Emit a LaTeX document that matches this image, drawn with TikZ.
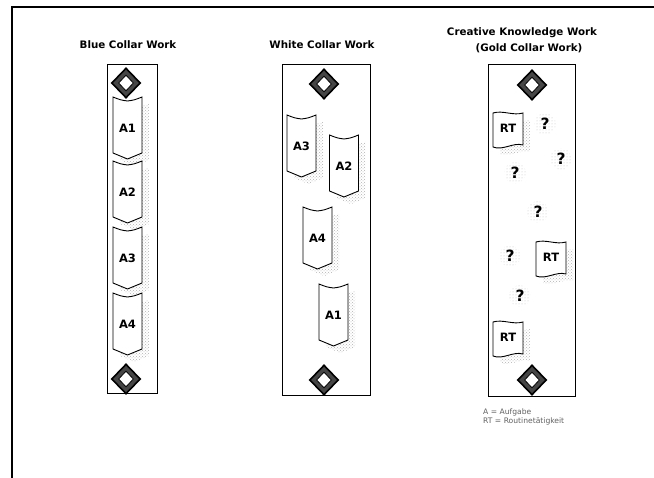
\documentclass[tikz,border=0pt]{standalone}
\usepackage{fontspec}
\setmainfont{DejaVu Sans}
\usetikzlibrary{shapes.geometric,patterns}
\begin{document}
\begin{tikzpicture}[x=1pt,y=-1pt,
  title/.style={font=\bfseries\fontsize{10.3}{12}\selectfont, inner sep=0pt},
  lane/.style={draw=black, line width=0.9pt},
  lbl/.style={font=\bfseries\fontsize{11.5}{12}\selectfont, inner sep=0pt},
  shade/.style={pattern=crosshatch dots, pattern color=gray!60},
  gemout/.style={diamond, draw=black, line width=1.6pt, fill=gray!55!black, minimum width=29pt, minimum height=30pt, inner sep=0pt},
  gemin/.style={diamond, draw=black, line width=0.8pt, fill=white, minimum width=15pt, minimum height=16pt, inner sep=0pt},
  qm/.style={circle, inner sep=2.5pt, pattern=dots, pattern color=gray!50, font=\bfseries\fontsize{15.5}{15.5}\selectfont},
  legend/.style={font=\fontsize{7.6}{8.5}\selectfont, text=gray!75!black, inner sep=0pt, anchor=west},
  pics/chevdoc/.style={code={
    \fill[shade] (-7.5,-24) -- (7,-20) -- (21.5,-24) -- (21.5,32) -- (7,38) -- (-7.5,32) -- cycle;
    \draw[fill=white, line width=0.9pt] (-14.5,-31) .. controls (-7,-28) .. (0,-27) .. controls (7,-28) .. (14.5,-31) -- (14.5,25) -- (0,31) -- (-14.5,25) -- cycle;
    \node[lbl] (-t) at (0,0) {#1};
  }},
  pics/rtdoc/.style={code={
    \fill[shade] (-8,-9) .. controls (2,-12) and (12,-6) .. (22,-9) -- (22,23) .. controls (12,20) and (2,29) .. (-8,25) -- cycle;
    \draw[fill=white, line width=0.9pt] (-15,-16) .. controls (-5,-19) and (5,-13) .. (15,-16) -- (15,16) .. controls (5,13) and (-5,22) .. (-15,18) -- cycle;
    \node[lbl] (-t) at (0,-1) {#1};
  }}
]
\useasboundingbox (0,0) rectangle (654,478);
% outer frame
\draw[line width=2pt] (12,478) -- (12,7) -- (654,7);

% titles
\node[title] (t1) at (128,45) {Blue Collar Work};
\node[title] (t2) at (322,45) {White Collar Work};
\node[title] (t3a) at (522,33) {Creative Knowledge Work};
\node[title] (t3b) at (529,48) {(Gold Collar Work)};

% lanes
\draw[lane] (107,64) rectangle (157,393);
\draw[lane] (282,64) rectangle (370,395);
\draw[lane] (488,64) rectangle (575,396);

% blue collar
\node[gemout] (b0) at (126,83) {};
\node[gemin] (b0i) at (126,83) {};
\pic (ba1) at (127.5,128) {chevdoc=A1};
\pic (ba2) at (127.5,192) {chevdoc=A2};
\pic (ba3) at (127.5,258) {chevdoc=A3};
\pic (ba4) at (127.5,324) {chevdoc=A4};
\node[gemout] (b9) at (126,379) {};
\node[gemin] (b9i) at (126,379) {};

% white collar
\node[gemout] (w0) at (324,84) {};
\node[gemin] (w0i) at (324,84) {};
\pic (wa3) at (301.5,146) {chevdoc=A3};
\pic (wa2) at (344,166) {chevdoc=A2};
\pic (wa4) at (317.5,238) {chevdoc=A4};
\pic (wa1) at (333.5,315) {chevdoc=A1};
\node[gemout] (w9) at (324,380) {};
\node[gemin] (w9i) at (324,380) {};

% gold collar
\node[gemout] (g0) at (532,85) {};
\node[gemin] (g0i) at (532,85) {};
\pic (gr1) at (508,129) {rtdoc=RT};
\pic (gr2) at (551,258) {rtdoc=RT};
\pic (gr3) at (508,338) {rtdoc=RT};
\node[qm] (q1) at (545,124) {?};
\node[qm] (q2) at (561,159) {?};
\node[qm] (q3) at (515,173) {?};
\node[qm] (q4) at (538,212) {?};
\node[qm] (q5) at (510,256) {?};
\node[qm] (q6) at (520,296) {?};
\node[gemout] (g9) at (532,380) {};
\node[gemin] (g9i) at (532,380) {};

% legend
\node[legend] (l1) at (483,412) {A = Aufgabe};
\node[legend] (l2) at (483,421) {RT = Routinetätigkeit};
\end{tikzpicture}
\end{document}
